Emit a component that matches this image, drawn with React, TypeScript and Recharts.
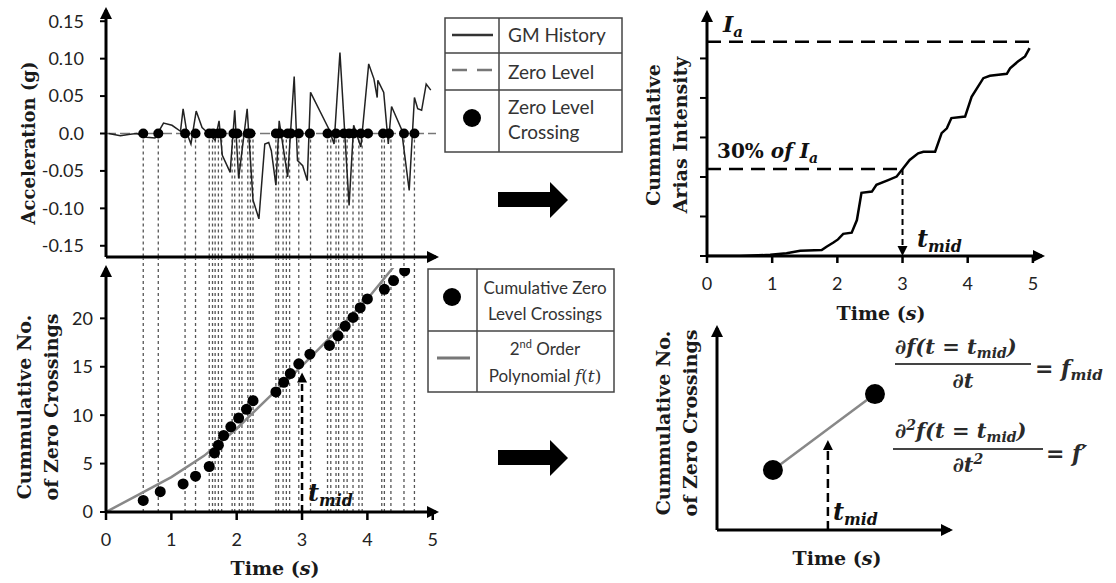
import React from 'react';
import { ComposedChart, Line, Scatter, XAxis, YAxis, ReferenceLine, ReferenceDot } from 'recharts';

// ---------- data ----------
const accTimes = [0.04,0.22,0.37,0.47,0.62,0.75,0.88,1.01,1.14,1.18,1.24,1.30,1.38,1.47,1.57,1.67,1.73,1.78,1.90,1.97,2.03,2.16,2.25,2.34,2.43,2.49,2.53,2.60,2.65,2.78,2.88,2.93,3.01,3.08,3.13,3.41,3.49,3.58,3.72,3.79,3.90,4.02,4.10,4.15,4.16,4.25,4.32,4.37,4.52,4.64,4.72,4.77,4.83,4.90,4.97];
const accValues = [0.000,-0.003,-0.001,0.000,-0.005,-0.006,0.014,0.011,0.003,0.033,0.000,-0.014,0.030,0.008,0.000,-0.009,0.017,-0.029,-0.052,0.031,-0.060,0.033,-0.089,-0.114,-0.014,-0.012,-0.023,-0.069,0.017,-0.058,0.076,-0.036,-0.043,-0.063,0.055,0.006,-0.014,0.108,-0.096,0.011,-0.018,0.093,0.073,0.048,0.071,0.055,-0.014,0.036,0.006,-0.076,0.048,0.033,0.031,0.066,0.058];

const crossingDotTimes = [0.57,0.80,1.21,1.37,1.58,1.64,1.72,1.77,1.95,2.01,2.17,2.21,2.60,2.66,2.78,2.83,2.95,3.12,3.39,3.52,3.64,3.72,3.79,3.90,4.01,4.24,4.33,4.56,4.72];
const crossingLineTimes = [0.57,0.80,1.21,1.37,1.58,1.63,1.67,1.72,1.77,1.93,1.97,2.04,2.08,2.17,2.21,2.25,2.60,2.64,2.71,2.76,2.81,2.95,3.13,3.39,3.44,3.52,3.56,3.64,3.69,3.78,3.87,3.92,4.22,4.26,4.36,4.56,4.72];

const cumTimes = [0.57,0.83,1.18,1.37,1.58,1.66,1.72,1.80,1.91,2.03,2.15,2.25,2.60,2.72,2.82,2.95,3.12,3.42,3.55,3.66,3.78,3.89,4.00,4.26,4.40,4.57];
const cumCounts = [1.2,2.1,2.9,3.7,4.7,6.1,6.9,7.9,8.8,9.7,10.6,11.5,12.4,13.4,14.3,15.3,16.3,17.2,18.2,19.2,20.1,21.1,22.0,23.0,23.9,24.9];

const polyTimes = [0,0.5,1,1.5,2,2.5,3,3.5,4,4.4];
const polyCounts = [0,1.8,3.6,5.8,8.6,11.9,15.1,18.5,22.0,25.3];

const ariasTimes = [0,0.5,0.97,1.22,1.43,1.76,1.84,1.94,2.01,2.09,2.22,2.30,2.37,2.53,2.60,2.78,2.91,3.01,3.11,3.24,3.32,3.50,3.60,3.68,3.75,3.96,4.06,4.24,4.34,4.60,4.65,4.77,4.88,4.95];
const ariasValues = [0,0,0.03,0.07,0.13,0.15,0.24,0.34,0.42,0.56,0.59,0.91,1.60,1.63,1.80,1.92,2.01,2.22,2.43,2.60,2.64,2.64,3.11,3.23,3.49,3.53,4.03,4.50,4.56,4.61,4.75,4.92,5.05,5.26];

const timeTicks = [0,1,2,3,4,5];
const accTicks = [-0.15,-0.1,-0.05,0,0.05,0.1,0.15];
const countTicks = [0,5,10,15,20];
const ariasTicks = [0,1,2,3,4,5];

const ariasTotal = 5.42;
const ariasThirty = 2.2;
const ariasTMid = 3.0;
const countTMid = 3.0;
const countTMidLevel = 14.4;

const schematicX = [2.4,6.78];
const schematicY = [2.97,6.73];
const schematicTMid = 4.76;
const schematicArrowTop = 4.46;

// ---------- built tables ----------
const accData = accTimes.map((x, i) => ({ x, y: accValues[i] }));
const crossDotData = crossingDotTimes.map((x) => ({ x, y: 0 }));
const cumData = cumTimes.map((x, i) => ({ x, y: cumCounts[i] }));
const polyData = polyTimes.map((x, i) => ({ x, y: polyCounts[i] }));
const ariasData = ariasTimes.map((x, i) => ({ x, y: ariasValues[i] }));
const schematicData = schematicX.map((x, i) => ({ x, y: schematicY[i] }));

const serif = '"DejaVu Serif", serif';
const sans = 'Lato, "Open Sans", sans-serif';

const dot = (r: number) => (p: any) => <circle cx={p.cx} cy={p.cy} r={r} fill="#000" />;
const arrowRight = (p: any) => (
  <polygon points={`${p.cx + 3},${p.cy} ${p.cx - 9},${p.cy - 6} ${p.cx - 9},${p.cy + 6}`} fill="#000" />
);
const arrowUp = (p: any) => (
  <polygon points={`${p.cx},${p.cy - 3} ${p.cx - 6},${p.cy + 9} ${p.cx + 6},${p.cy + 9}`} fill="#000" />
);
const smallUp = (p: any) => (
  <polygon points={`${p.cx},${p.cy} ${p.cx - 5},${p.cy + 10} ${p.cx + 5},${p.cy + 10}`} fill="#000" />
);
const smallDown = (p: any) => (
  <polygon points={`${p.cx},${p.cy} ${p.cx - 5},${p.cy - 10} ${p.cx + 5},${p.cy - 10}`} fill="#000" />
);

const axisStyle = { stroke: '#000', strokeWidth: 3 };
const tickStyle = { fontFamily: sans, fontSize: 18, fill: '#222' };

const VText = ({ x, y, children, size = 19 }: any) => (
  <text x={x} y={y} transform={`rotate(-90 ${x} ${y})`} textAnchor="middle" dominantBaseline="central"
    fontFamily={serif} fontWeight="bold" fontSize={size} fill="#1a1a1a">{children}</text>
);
const TimeLabel = ({ x, y }: any) => (
  <text x={x} y={y} textAnchor="middle" fontFamily={serif} fontWeight="bold" fontSize={19} fill="#1a1a1a">
    Time (<tspan fontStyle="italic">s</tspan>)
  </text>
);
const TMid = ({ x, y, size = 24 }: any) => (
  <text x={x} y={y} fontFamily={serif} fontWeight="bold" fontStyle="italic" fontSize={size} fill="#111">
    t<tspan fontSize={size * 0.66} dy={size * 0.2}>mid</tspan>
  </text>
);

export default function App() {
  return (
    <div style={{ position: 'absolute', left: 0, top: 0, width: 1116, height: 583, background: '#fff', overflow: 'hidden' }}>
      {/* Top-left: acceleration history */}
      <div style={{ position: 'absolute', left: 0, top: 0 }}>
        <ComposedChart width={450} height={265} margin={{ top: 10, right: 14, left: 0, bottom: 0 }}>
          <XAxis type="number" dataKey="x" domain={[0, 5.05]} ticks={[]} tick={false} tickLine={false}
            axisLine={axisStyle} height={8} allowDataOverflow />
          <YAxis type="number" dataKey="y" domain={[-0.165, 0.165]} ticks={accTicks} width={106}
            tickFormatter={(v: number) => (v === 0 ? '0.0' : v.toFixed(2))} axisLine={axisStyle}
            tickLine={{ stroke: '#000', strokeWidth: 2 }} tickSize={6} tickMargin={16} tick={tickStyle} allowDataOverflow />
          <ReferenceLine y={0} stroke="#777" strokeDasharray="10 4" strokeWidth={1.6} />
          {crossingLineTimes.map((t, i) => (
            <ReferenceLine key={'a' + i} segment={[{ x: t, y: 0 }, { x: t, y: -0.165 }]} stroke="#555"
              strokeDasharray="3 3" strokeWidth={1.3} ifOverflow="visible" />
          ))}
          <Line data={accData} dataKey="y" type="linear" stroke="#222" strokeWidth={1.5} dot={false} isAnimationActive={false} />
          <Scatter data={crossDotData} dataKey="y" shape={dot(5)} isAnimationActive={false} />
          <ReferenceDot x={5.05} y={-0.165} shape={arrowRight} ifOverflow="visible" />
          <ReferenceDot x={0} y={0.165} shape={arrowUp} ifOverflow="visible" />
        </ComposedChart>
      </div>

      {/* Bottom-left: cumulative zero crossings */}
      <div style={{ position: 'absolute', left: 0, top: 258 }}>
        <ComposedChart width={450} height={300} margin={{ top: 10, right: 14, left: 0, bottom: 0 }}>
          <XAxis type="number" dataKey="x" domain={[0, 5.05]} ticks={timeTicks} height={46} axisLine={axisStyle}
            tickLine={{ stroke: '#000', strokeWidth: 2.5 }} tickSize={8} tickMargin={13} tick={tickStyle} allowDataOverflow />
          <YAxis type="number" dataKey="y" domain={[0, 25.2]} ticks={countTicks} width={106} axisLine={axisStyle}
            tickLine={{ stroke: '#000', strokeWidth: 2 }} tickSize={6} tickMargin={7} tick={tickStyle} allowDataOverflow />
          {crossingLineTimes.map((t, i) => (
            <ReferenceLine key={'b' + i} segment={[{ x: t, y: 0 }, { x: t, y: 26.25 }]} stroke="#555"
              strokeDasharray="3 3" strokeWidth={1.3} ifOverflow="visible" />
          ))}
          <Line data={polyData} dataKey="y" type="linear" stroke="#888" strokeWidth={2.5} dot={false} isAnimationActive={false} />
          <Scatter data={cumData} dataKey="y" shape={dot(5.5)} isAnimationActive={false} />
          <ReferenceLine segment={[{ x: countTMid, y: 0 }, { x: countTMid, y: countTMidLevel - 0.8 }]} stroke="#000"
            strokeDasharray="7 4" strokeWidth={2.5} ifOverflow="visible" />
          <ReferenceDot x={countTMid} y={countTMidLevel} shape={smallUp} ifOverflow="visible" />
          <ReferenceDot x={5.05} y={0} shape={arrowRight} ifOverflow="visible" />
          <ReferenceDot x={0} y={25.2} shape={arrowUp} ifOverflow="visible" />
        </ComposedChart>
      </div>

      {/* Top-right: Arias intensity */}
      <div style={{ position: 'absolute', left: 640, top: 0 }}>
        <ComposedChart width={476} height={320} margin={{ top: 13, right: 74, left: 0, bottom: 0 }}>
          <XAxis type="number" dataKey="x" domain={[0, 5.14]} ticks={timeTicks} height={64} axisLine={axisStyle}
            tickLine={{ stroke: '#000', strokeWidth: 2.5 }} tickSize={7} tickMargin={14} tick={tickStyle} allowDataOverflow />
          <YAxis type="number" dataKey="y" domain={[0, 6.15]} ticks={ariasTicks} width={67} axisLine={axisStyle}
            tickFormatter={() => ''} tickLine={{ stroke: '#000', strokeWidth: 2 }} tickSize={7} tick={tickStyle} allowDataOverflow />
          <ReferenceLine segment={[{ x: 0, y: ariasTotal }, { x: 5.0, y: ariasTotal }]} stroke="#000"
            strokeDasharray="14 8" strokeWidth={2.5} ifOverflow="visible" />
          <ReferenceLine segment={[{ x: 0, y: ariasThirty }, { x: ariasTMid, y: ariasThirty }]} stroke="#000"
            strokeDasharray="14 8" strokeWidth={2.5} ifOverflow="visible" />
          <ReferenceLine segment={[{ x: ariasTMid, y: ariasThirty }, { x: ariasTMid, y: 0.2 }]} stroke="#000"
            strokeDasharray="6 4" strokeWidth={2} ifOverflow="visible" />
          <ReferenceDot x={ariasTMid} y={0} shape={smallDown} ifOverflow="visible" />
          <Line data={ariasData} dataKey="y" type="linear" stroke="#000" strokeWidth={2.5} dot={false} isAnimationActive={false} />
          <ReferenceDot x={5.14} y={0} shape={arrowRight} ifOverflow="visible" />
          <ReferenceDot x={0} y={6.15} shape={arrowUp} ifOverflow="visible" />
        </ComposedChart>
      </div>

      {/* Bottom-right: schematic */}
      <div style={{ position: 'absolute', left: 600, top: 320 }}>
        <ComposedChart width={400} height={260} margin={{ top: 8, right: 50, left: 0, bottom: 0 }}>
          <XAxis type="number" dataKey="x" domain={[0, 10]} ticks={[]} tick={false} tickLine={false} height={50} axisLine={axisStyle} />
          <YAxis type="number" dataKey="y" domain={[0, 10]} ticks={[]} tick={false} tickLine={false} width={117} axisLine={axisStyle} />
          <ReferenceLine segment={[{ x: schematicTMid, y: 0 }, { x: schematicTMid, y: schematicArrowTop - 0.4 }]} stroke="#000"
            strokeDasharray="9 5" strokeWidth={2.5} ifOverflow="visible" />
          <ReferenceDot x={schematicTMid} y={schematicArrowTop} shape={smallUp} ifOverflow="visible" />
          <Line data={schematicData} dataKey="y" type="linear" stroke="#888" strokeWidth={2.5} dot={false} isAnimationActive={false} />
          <Scatter data={schematicData} dataKey="y" shape={dot(10)} isAnimationActive={false} />
          <ReferenceDot x={10} y={0} shape={arrowRight} ifOverflow="visible" />
          <ReferenceDot x={0} y={10} shape={arrowUp} ifOverflow="visible" />
        </ComposedChart>
      </div>

      {/* Overlay: titles, legends, arrows, equations */}
      <svg width={1116} height={583} style={{ position: 'absolute', left: 0, top: 0, pointerEvents: 'none' }}>
        <VText x={28} y={143} size={18}>Acceleration (g)</VText>
        <VText x={24} y={407}>Cummulative No.</VText>
        <VText x={51} y={407}>of Zero Crossings</VText>
        <TimeLabel x={275} y={575} />
        <VText x={653} y={135}>Cummulative</VText>
        <VText x={680} y={135}>Arias Intensity</VText>
        <TimeLabel x={881} y={320} />
        <VText x={663} y={423}>Cummulative No.</VText>
        <VText x={690} y={423}>of Zero Crossings</VText>
        <TimeLabel x={837} y={565} />

        <TMid x={308} y={501} />
        <TMid x={917} y={247} />
        <TMid x={833} y={520} />

        <text x={723} y={32} fontFamily={serif} fontWeight="bold" fontStyle="italic" fontSize={22} fill="#111">
          I<tspan fontSize={15} dy={5}>a</tspan>
        </text>
        <text x={717} y={158} fontFamily={serif} fontWeight="bold" fontSize={20} fill="#111">
          30% <tspan fontStyle="italic">of I</tspan><tspan fontStyle="italic" fontSize={14} dy={5}>a</tspan>
        </text>

        {/* block arrows */}
        <polygon points="498,192 550,192 550,182 568,200 550,218 550,207 498,207" fill="#000" />
        <polygon points="498,450 550,450 550,440 568,458 550,476 550,465 498,465" fill="#000" />

        {/* legend 1 */}
        <rect x={445} y={18} width={177} height={134} fill="#fff" stroke="#444" strokeWidth={1.5} />
        <line x1={499} y1={18} x2={499} y2={152} stroke="#444" strokeWidth={1.5} />
        <line x1={445} y1={53} x2={622} y2={53} stroke="#444" strokeWidth={1.5} />
        <line x1={445} y1={90} x2={622} y2={90} stroke="#444" strokeWidth={1.5} />
        <line x1={452} y1={35} x2={493} y2={35} stroke="#333" strokeWidth={2.5} />
        <line x1={452} y1={70} x2={493} y2={70} stroke="#777" strokeWidth={2.5} strokeDasharray="15 10" />
        <circle cx={472} cy={118} r={9} fill="#000" />
        <g fontFamily={sans} fontSize={19} fill="#333">
          <text x={508} y={42}>GM History</text>
          <text x={508} y={79}>Zero Level</text>
          <text x={508} y={114}>Zero Level</text>
          <text x={508} y={139}>Crossing</text>
        </g>

        {/* legend 2 */}
        <rect x={428} y={269} width={186} height={123} fill="#fff" stroke="#444" strokeWidth={1.5} />
        <line x1={477} y1={269} x2={477} y2={392} stroke="#444" strokeWidth={1.5} />
        <line x1={428} y1={331} x2={614} y2={331} stroke="#444" strokeWidth={1.5} />
        <circle cx={452} cy={297} r={9} fill="#000" />
        <line x1={437} y1={358} x2={470} y2={358} stroke="#777" strokeWidth={3} />
        <g fontFamily={sans} fontSize={17} fill="#333" textAnchor="middle">
          <text x={545} y={294}>Cumulative Zero</text>
          <text x={545} y={320}>Level Crossings</text>
          <text x={545} y={355}>2<tspan fontSize={11} dy={-7}>nd</tspan><tspan dy={7}> Order</tspan></text>
          <text x={545} y={382}>Polynomial <tspan fontFamily={serif} fontStyle="italic">f</tspan><tspan fontFamily={serif}>(</tspan><tspan fontFamily={serif} fontStyle="italic">t</tspan><tspan fontFamily={serif}>)</tspan></text>
        </g>

        {/* equations */}
        <g fontFamily={serif} fontStyle="italic" fontWeight="bold" fill="#2a2a2a">
          <text x={895} y={354} fontSize={21}>∂f(t = t<tspan fontSize={14} dy={4}>mid</tspan><tspan dy={-4}>)</tspan></text>
          <line x1={895} y1={364} x2={1031} y2={364} stroke="#444" strokeWidth={2.2} />
          <text x={963} y={388} fontSize={21} textAnchor="middle">∂t</text>
          <text x={1035} y={376} fontSize={22}>= f<tspan fontSize={15} dy={4}>mid</tspan></text>

          <text x={895} y={438} fontSize={21}>∂<tspan fontSize={14} dy={-8}>2</tspan><tspan dy={8}>f(t = t</tspan><tspan fontSize={14} dy={4}>mid</tspan><tspan dy={-4}>)</tspan></text>
          <line x1={893} y1={449} x2={1043} y2={449} stroke="#444" strokeWidth={2.2} />
          <text x={968} y={472} fontSize={21} textAnchor="middle">∂t<tspan fontSize={14} dy={-8}>2</tspan></text>
          <text x={1046} y={461} fontSize={22}>= f′</text>
        </g>
      </svg>
    </div>
  );
}
